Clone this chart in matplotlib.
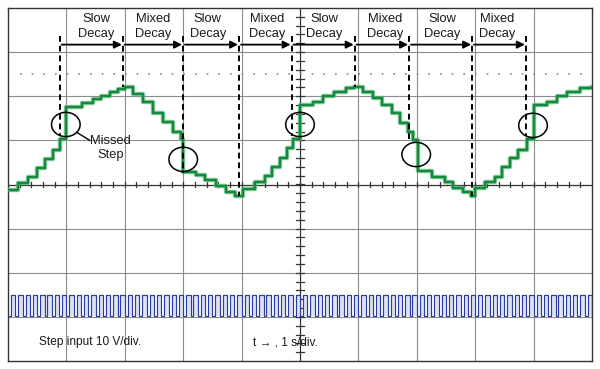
import numpy as np
import matplotlib.pyplot as plt
from matplotlib.patches import Ellipse

plt.rcParams['font.family'] = ['Liberation Sans', 'DejaVu Sans']

# Motor position trace (green): step start times (div) and levels (div)
green_t = [0.00, 0.17, 0.34, 0.50, 0.63, 0.77, 0.89, 0.99, 1.26, 1.45, 1.60, 1.75, 1.88,
           2.00, 2.14, 2.31, 2.48, 2.65, 2.82, 2.96, 3.00, 3.22, 3.38, 3.57, 3.74, 3.88,
           4.02, 4.23, 4.40, 4.52, 4.66, 4.78, 4.88, 5.00, 5.22, 5.40, 5.58, 5.78, 5.92,
           6.08, 6.25, 6.41, 6.57, 6.72, 6.85, 6.94, 7.02, 7.26, 7.48, 7.62, 7.79, 7.92,
           8.00, 8.17, 8.34, 8.46, 8.60, 8.73, 8.89, 9.00, 9.23, 9.40, 9.57, 9.80, 10.0]
green_v = [-0.12, 0.04, 0.18, 0.38, 0.57, 0.79, 1.02, 1.76, 1.84, 1.93, 2.01, 2.09, 2.16,
           2.22, 2.06, 1.86, 1.63, 1.42, 1.20, 1.02, 0.28, 0.21, 0.10, -0.04, -0.18, -0.26,
           -0.11, 0.05, 0.19, 0.39, 0.59, 0.82, 1.02, 1.80, 1.88, 2.00, 2.10, 2.18, 2.22,
           2.10, 1.97, 1.81, 1.63, 1.40, 1.18, 1.00, 0.30, 0.18, 0.05, -0.07, -0.18, -0.26,
           -0.07, 0.05, 0.18, 0.39, 0.59, 0.79, 1.02, 1.81, 1.88, 2.00, 2.10, 2.18, 2.20]

# Step input (blue): clock pulses
pulses_per_div = 8
pulse_start = 0.05
duty = 0.6
step_low, step_high = -2.98, -2.50

# Decay mode boundaries (dashed lines) and where each dashed line stops
bounds = [0.89, 1.97, 3.00, 3.96, 4.86, 5.94, 6.87, 7.95, 8.87]
bound_bottom = [1.09, 2.22, 0.27, -0.27, 1.09, 2.22, 1.02, -0.27, 1.09]
modes = ['Slow\nDecay', 'Mixed\nDecay'] * 4
mode_x = [1.51, 2.48, 3.42, 4.43, 5.41, 6.46, 7.43, 8.37]

# Missed step circles
missed_x = [0.99, 3.00, 5.00, 6.99, 8.99]
missed_y = [1.36, 0.57, 1.36, 0.68, 1.34]

fig = plt.figure(figsize=(6, 3.69), dpi=100)
ax = fig.add_axes([8 / 600, 8 / 369, 584 / 600, 353 / 369])
ax.set_xlim(0, 10)
ax.set_ylim(-4, 4)
ax.set_xticks([])
ax.set_yticks([])
for s in ax.spines.values():
    s.set_color('#333333')
    s.set_linewidth(1.0)

# graticule
for gx in range(1, 10):
    if gx != 5:
        ax.axvline(gx, color='#8c8c8c', lw=0.8, zorder=1)
for gy in range(-3, 4):
    if gy != 0:
        ax.axhline(gy, color='#8c8c8c', lw=0.8, zorder=1)
ax.axvline(5, color='#333333', lw=0.9, zorder=1)
ax.axhline(0, color='#333333', lw=0.9, zorder=1)
for t in np.arange(0.2, 10, 0.2):
    ax.plot([t, t], [-0.06, 0.06], color='#333333', lw=0.9, zorder=1)
for t in np.arange(-3.8, 4, 0.2):
    ax.plot([4.93, 5.07], [t, t], color='#333333', lw=0.9, zorder=1)
ax.plot([0.2, 9.9], [2.5, 2.5], color='#888888', lw=1.2, ls=(0, (1, 6)), zorder=1)

# step input
periods = np.arange(pulse_start, 10, 1 / pulses_per_div)
sx, sy = [0], [step_low]
for p in periods:
    sx += [p, p, p + duty / pulses_per_div, p + duty / pulses_per_div]
    sy += [step_low, step_high, step_high, step_low]
sx.append(10)
sy.append(step_low)
ax.fill_between(sx, sy, step_low, color='#dde1f3', lw=0, zorder=2)
ax.plot(sx, sy, color='#2b3d9a', lw=0.85, zorder=3)

# motor trace
ax.step(green_t, green_v, where='post', color='#5fb97f', lw=3.2, alpha=0.75, zorder=4)
ax.step(green_t, green_v, where='post', color='#168a3c', lw=1.7, zorder=5)

# decay annotations
for b, bb in zip(bounds, bound_bottom):
    ax.plot([b, b], [3.36, bb], color='black', lw=1.4, ls=(0, (3, 2)), zorder=6)
for i in range(len(bounds) - 1):
    ax.annotate('', xy=(bounds[i + 1] - 0.02, 3.17), xytext=(bounds[i] + 0.03, 3.17),
                arrowprops=dict(arrowstyle='-|>', color='black', lw=1.3,
                                mutation_scale=11, shrinkA=0, shrinkB=0), zorder=6)
    ax.text(mode_x[i], 3.58, modes[i], ha='center', va='center', fontsize=9.3,
            linespacing=1.3, color='#1a1a1a')

for mx, my in zip(missed_x, missed_y):
    ax.add_patch(Ellipse((mx, my), 0.49, 0.55, fill=False, ec='black', lw=1.1, zorder=7))
ax.plot([1.18, 1.40], [1.18, 1.00], color='black', lw=1.0, zorder=7)
ax.text(1.75, 0.82, 'Missed\nStep', ha='center', va='center', fontsize=9.3,
        linespacing=1.2, color='#1a1a1a')

ax.text(0.53, -3.58, 'Step input 10 V/div.', ha='left', va='center', fontsize=8.6,
        color='#1a1a1a')
ax.text(4.2, -3.58, 't \u2192 , 1 s/div.', ha='left', va='center', fontsize=8.6,
        color='#1a1a1a')

fig.savefig('out.png', dpi=100)
